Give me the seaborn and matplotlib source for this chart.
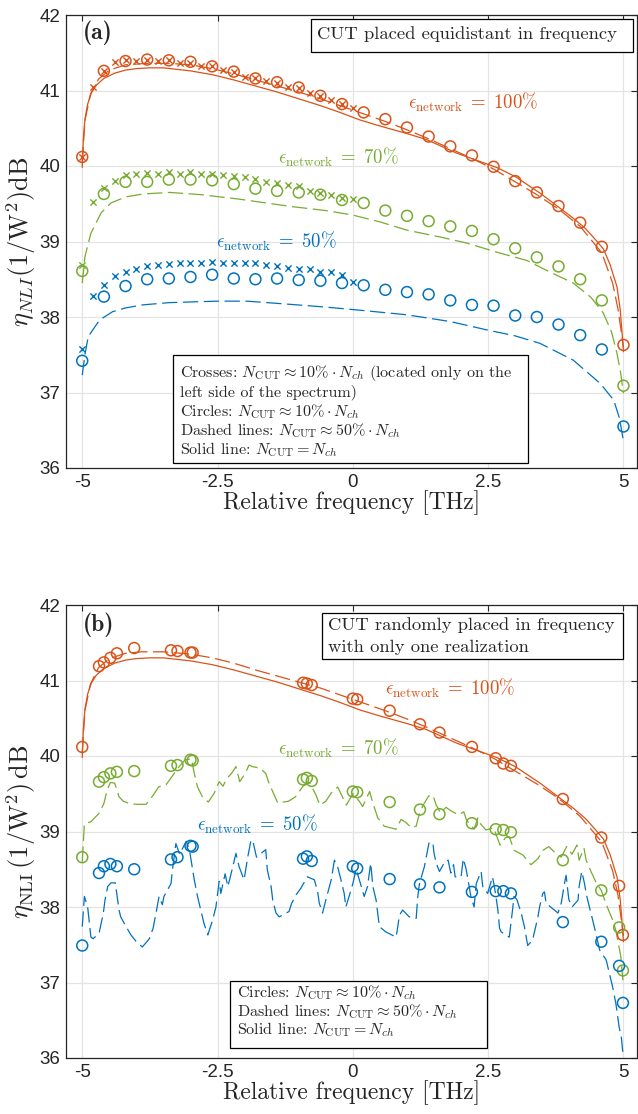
import numpy as np
import pandas as pd
import matplotlib
matplotlib.use("Agg")
import matplotlib.pyplot as plt
from matplotlib.patches import Rectangle
import seaborn as sns

# ---------------- data ----------------
RED = "#D95319"
GREEN = "#77AC30"
BLUE = "#0072BD"

# (a) equidistant CUTs
cross_f = [-5.0, -4.8, -4.6, -4.4, -4.2, -4.0, -3.8, -3.6, -3.4, -3.2, -3.0, -2.8, -2.6,
           -2.4, -2.2, -2.0, -1.8, -1.6, -1.4, -1.2, -1.0, -0.8, -0.6, -0.4, -0.2, 0.0]
red_cross_a = [40.12, 41.05, 41.26, 41.38, 41.40, 41.39, 41.41, 41.39, 41.40, 41.37, 41.36, 41.33, 41.32,
               41.27, 41.25, 41.18, 41.16, 41.13, 41.10, 41.05, 41.03, 40.97, 40.93, 40.87, 40.82, 40.77]
green_cross_a = [38.69, 39.52, 39.71, 39.80, 39.88, 39.90, 39.91, 39.90, 39.92, 39.90, 39.92, 39.90, 39.90,
                 39.88, 39.87, 39.85, 39.83, 39.79, 39.77, 39.75, 39.73, 39.67, 39.64, 39.62, 39.57, 39.56]
blue_cross_a = [37.58, 38.28, 38.43, 38.54, 38.59, 38.64, 38.67, 38.69, 38.70, 38.71, 38.72, 38.71, 38.73,
                38.72, 38.72, 38.71, 38.72, 38.69, 38.68, 38.65, 38.64, 38.63, 38.60, 38.59, 38.56, 38.47]

circle_f_a = [-5.0, -4.6, -4.2, -3.8, -3.4, -3.0, -2.6, -2.2, -1.8, -1.4, -1.0, -0.6, -0.2,
              0.2, 0.6, 1.0, 1.4, 1.8, 2.2, 2.6, 3.0, 3.4, 3.8, 4.2, 4.6, 5.0]
red_circ_a = [40.12, 41.26, 41.39, 41.41, 41.40, 41.38, 41.32, 41.25, 41.16, 41.11, 41.04, 40.93, 40.82,
              40.71, 40.62, 40.51, 40.39, 40.26, 40.14, 39.99, 39.80, 39.65, 39.47, 39.25, 38.93, 37.63]
green_circ_a = [38.61, 39.63, 39.79, 39.79, 39.82, 39.82, 39.81, 39.76, 39.70, 39.67, 39.65, 39.62, 39.55,
                39.51, 39.41, 39.34, 39.27, 39.20, 39.14, 39.03, 38.91, 38.79, 38.67, 38.50, 38.22, 37.09]
blue_circ_a = [37.42, 38.27, 38.41, 38.50, 38.51, 38.53, 38.56, 38.51, 38.50, 38.51, 38.49, 38.48, 38.45,
               38.42, 38.36, 38.33, 38.30, 38.22, 38.16, 38.15, 38.02, 38.00, 37.90, 37.76, 37.57, 36.55]

# solid line, N_CUT = N_ch (same in both panels)
solid_f = [-5.00, -4.98, -4.95, -4.90, -4.83, -4.74, -4.60, -4.40, -4.20, -4.00, -3.75, -3.50, -3.25,
           -3.00, -2.60, -2.20, -1.80, -1.40, -1.00, -0.60, -0.24, 0.13, 0.50, 1.00, 1.36, 1.92,
           2.66, 3.00, 3.46, 4.07, 4.30, 4.50, 4.63, 4.75, 4.88, 4.94, 4.97, 5.00]
red_solid = [39.98, 40.35, 40.62, 40.82, 40.97, 41.07, 41.16, 41.23, 41.27, 41.29, 41.30, 41.30, 41.28,
             41.26, 41.21, 41.14, 41.06, 40.98, 40.89, 40.80, 40.71, 40.61, 40.53, 40.43, 40.35, 40.17,
             39.98, 39.86, 39.64, 39.31, 39.17, 39.01, 38.90, 38.70, 38.40, 38.10, 37.83, 37.54]

# dashed lines, N_CUT ~ 50% N_ch, panel (a)
red_dash_f_a = [-5.0, -4.95, -4.85, -4.7, -4.5, -4.2, -3.8, -3.4, -3.0, -2.6, -2.2, -1.8, -1.4, -1.0,
                -0.6, -0.2, 0.2, 0.6, 1.0, 1.4, 1.8, 2.2, 2.6, 3.0, 3.4, 3.8, 4.2, 4.6, 4.8, 4.9, 5.0]
red_dash_a = [40.05, 40.60, 40.95, 41.15, 41.27, 41.34, 41.36, 41.36, 41.34, 41.29, 41.22, 41.14, 41.06, 40.98,
              40.89, 40.79, 40.69, 40.59, 40.48, 40.36, 40.23, 40.10, 39.96, 39.79, 39.62, 39.43, 39.20, 38.85,
              38.45, 38.10, 37.60]
green_dash_f_a = [-5.00, -4.95, -4.84, -4.65, -4.47, -4.20, -3.87, -3.38, -2.80, -2.09, -1.60, -1.10, -0.50,
                  0.00, 0.50, 1.00, 1.61, 2.10, 2.70, 3.21, 3.60, 4.07, 4.40, 4.63, 4.78, 4.88, 4.95, 5.00]
green_dash_a = [38.45, 38.80, 39.11, 39.38, 39.51, 39.59, 39.63, 39.65, 39.62, 39.56, 39.51, 39.46, 39.41,
                39.35, 39.26, 39.15, 39.06, 38.98, 38.85, 38.75, 38.61, 38.45, 38.26, 38.05, 37.80, 37.52,
                37.25, 36.99]
blue_dash_f_a = [-5.00, -4.95, -4.89, -4.68, -4.44, -4.20, -3.89, -3.40, -2.97, -2.50, -1.96, -1.20, -0.48,
                 0.13, 0.99, 1.80, 2.47, 3.00, 3.46, 4.07, 4.57, 4.82, 4.93, 5.00]
blue_dash_a = [37.23, 37.50, 37.74, 37.96, 38.07, 38.12, 38.16, 38.19, 38.20, 38.21, 38.21, 38.17, 38.13,
               38.09, 38.03, 37.94, 37.83, 37.75, 37.65, 37.43, 37.12, 36.90, 36.65, 36.35]

# (b) randomly placed CUTs, one realization
circle_f_b = [-5.0, -4.69, -4.60, -4.48, -4.36, -4.04, -3.36, -3.24, -3.00, -2.96, -0.92, -0.85, -0.76,
              0.0, 0.08, 0.68, 1.24, 1.60, 2.20, 2.64, 2.78, 2.92, 3.88, 4.59, 4.92, 4.99]
red_circ_b = [40.12, 41.19, 41.24, 41.30, 41.36, 41.43, 41.40, 41.39, 41.37, 41.37, 40.97, 40.96, 40.94,
              40.76, 40.75, 40.60, 40.42, 40.31, 40.12, 39.97, 39.90, 39.87, 39.43, 38.92, 38.28, 37.63]
green_circ_b = [38.66, 39.66, 39.72, 39.77, 39.79, 39.80, 39.87, 39.88, 39.95, 39.94, 39.69, 39.71, 39.67,
                39.53, 39.52, 39.39, 39.29, 39.23, 39.11, 39.03, 39.02, 38.99, 38.62, 38.22, 37.73, 37.16]
blue_circ_b = [37.49, 38.45, 38.54, 38.57, 38.54, 38.50, 38.63, 38.66, 38.81, 38.80, 38.64, 38.67, 38.61,
               38.54, 38.51, 38.37, 38.30, 38.26, 38.20, 38.21, 38.21, 38.18, 37.80, 37.54, 37.22, 36.73]

red_dash_f_b = [-5.0, -4.95, -4.85, -4.7, -4.5, -4.2, -3.9, -3.5, -3.0, -2.6, -2.2, -1.8, -1.4, -1.0,
                -0.6, -0.2, 0.2, 0.6, 1.0, 1.4, 1.8, 2.2, 2.6, 3.0, 3.4, 3.8, 4.2, 4.6, 4.8, 4.9, 5.0]
red_dash_b = [40.05, 40.60, 40.95, 41.17, 41.29, 41.36, 41.38, 41.38, 41.35, 41.30, 41.23, 41.14, 41.06, 40.98,
              40.90, 40.80, 40.70, 40.60, 40.49, 40.37, 40.24, 40.11, 39.97, 39.80, 39.63, 39.44, 39.20, 38.86,
              38.48, 38.15, 37.62]
green_dash_f_b = [-5.00, -4.96, -4.84, -4.69, -4.60, -4.54, -4.48, -4.40, -4.32, -4.24, -4.12, -4.00, -3.82,
                  -3.69, -3.59, -3.45, -3.34, -3.22, -3.10, -2.98, -2.93, -2.87, -2.78, -2.67, -2.56, -2.47,
                  -2.40, -2.33, -2.23, -2.16, -2.09, -1.98, -1.92, -1.86, -1.72, -1.61, -1.55, -1.45, -1.39,
                  -1.19, -1.06, -0.92, -0.80, -0.68, -0.61, -0.50, -0.40, -0.28, -0.22, -0.12, 0.00, 0.12,
                  0.18, 0.31, 0.36, 0.46, 0.58, 0.80, 0.89, 0.98, 1.08, 1.17, 1.23, 1.30, 1.40, 1.48, 1.54,
                  1.62, 1.72, 1.80, 1.95, 2.05, 2.10, 2.24, 2.31, 2.36, 2.46, 2.60, 2.72, 2.82, 2.89, 2.98,
                  3.14, 3.29, 3.42, 3.51, 3.62, 3.72, 3.85, 3.95, 4.05, 4.14, 4.18, 4.27, 4.31, 4.40, 4.49,
                  4.59, 4.70, 4.80, 4.86, 4.91, 4.95, 4.99]
green_dash_b = [38.60, 39.10, 39.13, 39.24, 39.37, 39.55, 39.65, 39.64, 39.46, 39.40, 39.37, 39.36, 39.36,
                39.48, 39.59, 39.62, 39.73, 39.85, 39.95, 39.96, 39.77, 39.59, 39.46, 39.39, 39.51, 39.66,
                39.60, 39.70, 39.78, 39.86, 39.66, 39.78, 39.88, 39.86, 39.84, 39.77, 39.64, 39.48, 39.38,
                39.40, 39.46, 39.60, 39.65, 39.48, 39.35, 39.40, 39.51, 39.59, 39.50, 39.35, 39.50, 39.40,
                39.33, 39.53, 39.40, 39.18, 39.07, 39.03, 39.16, 39.12, 39.05, 39.07, 39.24, 39.35, 39.47,
                39.48, 39.35, 39.25, 39.32, 39.28, 39.22, 39.26, 39.15, 39.03, 39.18, 39.10, 39.02, 39.05,
                38.82, 38.92, 38.93, 38.75, 38.69, 38.56, 38.64, 38.75, 38.80, 38.73, 38.66, 38.80, 38.70,
                38.82, 38.62, 38.78, 38.62, 38.47, 38.33, 38.22, 38.00, 37.83, 37.69, 37.50, 37.35, 37.03]
blue_dash_f_b = [-5.00, -4.96, -4.90, -4.84, -4.80, -4.69, -4.61, -4.58, -4.53, -4.47, -4.39, -4.37, -4.32,
                 -4.29, -4.19, -4.10, -4.00, -3.89, -3.76, -3.69, -3.58, -3.52, -3.49, -3.36, -3.33, -3.27,
                 -3.20, -3.08, -3.02, -2.93, -2.87, -2.81, -2.75, -2.68, -2.59, -2.53, -2.47, -2.44, -2.36,
                 -2.31, -2.25, -2.16, -2.10, -2.01, -1.94, -1.88, -1.84, -1.78, -1.68, -1.61, -1.58, -1.51,
                 -1.48, -1.42, -1.36, -1.18, -1.13, -1.05, -0.96, -0.84, -0.71, -0.65, -0.62, -0.56, -0.50,
                 -0.40, -0.34, -0.28, -0.22, -0.16, -0.13, -0.07, 0.00, 0.06, 0.12, 0.21, 0.27, 0.33, 0.37,
                 0.43, 0.49, 0.61, 0.80, 0.83, 0.86, 0.92, 1.04, 1.17, 1.20, 1.23, 1.32, 1.41, 1.48, 1.50,
                 1.54, 1.60, 1.70, 1.76, 1.81, 1.86, 1.89, 2.00, 2.04, 2.09, 2.15, 2.18, 2.24, 2.28, 2.37,
                 2.40, 2.49, 2.58, 2.62, 2.68, 2.71, 2.74, 2.89, 2.92, 2.98, 3.03, 3.11, 3.17, 3.23, 3.32,
                 3.42, 3.45, 3.51, 3.54, 3.57, 3.79, 3.85, 3.91, 3.94, 3.99, 4.05, 4.16, 4.18, 4.23, 4.28,
                 4.31, 4.37, 4.43, 4.49, 4.56, 4.68, 4.74, 4.80, 4.86, 4.92, 4.96, 4.99]
blue_dash_b = [37.74, 38.14, 38.00, 37.60, 37.58, 37.65, 37.92, 38.09, 38.27, 38.32, 38.32, 38.22, 37.96,
               37.87, 37.74, 37.63, 37.54, 37.47, 37.58, 37.72, 38.14, 38.03, 38.14, 38.31, 38.51, 38.84,
               38.70, 38.87, 38.76, 38.36, 38.14, 37.96, 37.78, 37.63, 37.83, 38.00, 38.34, 38.18, 38.44,
               38.27, 38.44, 38.71, 38.53, 38.36, 38.67, 38.89, 38.85, 38.66, 38.72, 38.76, 38.49, 38.27,
               38.09, 37.92, 37.87, 37.94, 38.05, 38.16, 38.25, 38.40, 38.36, 38.20, 38.05, 37.92, 38.09,
               38.36, 38.62, 38.53, 38.36, 38.18, 38.00, 38.14, 38.31, 38.50, 38.36, 38.14, 38.27, 38.58, 38.27,
               38.09, 37.74, 37.67, 37.60, 37.74, 37.89, 37.96, 37.87, 37.85, 38.14, 38.31, 38.53, 38.86, 38.84, 38.71,
               38.58, 38.47, 38.60, 38.62, 38.45, 38.56, 38.40, 38.40, 38.64, 38.51, 38.27, 38.14, 38.00, 38.31, 38.47,
               38.27, 38.18, 38.40, 38.25, 37.96, 37.72, 37.67, 37.60, 37.78, 38.14, 38.10, 37.92, 37.74, 37.49, 37.56,
               37.87, 38.00, 38.18, 38.20, 38.05, 37.92, 38.05, 38.31, 38.42, 38.10, 38.00, 38.09, 38.27, 38.47, 38.31,
               38.18, 38.00, 37.83, 37.65, 37.43, 37.30, 37.12, 36.94, 36.72, 36.41, 36.28, 36.06]

x_ticks = [-5, -2.5, 0, 2.5, 5]
x_ticklabels = ["-5", "-2.5", "0", "2.5", "5"]
y_ticks = [36, 37, 38, 39, 40, 41, 42]

# ---------------- style ----------------
sns.set_theme(style="white")
plt.rcParams["font.family"] = ["Liberation Sans", "DejaVu Sans"]
plt.rcParams["mathtext.fontset"] = "cm"
plt.rcParams["axes.unicode_minus"] = False
plt.rcParams["lines.scale_dashes"] = False
SERIF = "cmr10"
DASH = (0, (11, 4))


def line(ax, xs, ys, color, ls="-"):
    df = pd.DataFrame({"f": xs, "v": ys})
    sns.lineplot(data=df, x="f", y="v", ax=ax, color=color, linewidth=0.9,
                 linestyle=ls, sort=False, estimator=None, zorder=2)


def circles(ax, xs, ys, color):
    sns.scatterplot(x=xs, y=ys, ax=ax, marker="o", s=62, color=color,
                    facecolors="none", edgecolor=color, linewidth=1.1, zorder=3, legend=False)


def crosses(ax, xs, ys, color):
    sns.scatterplot(x=xs, y=ys, ax=ax, marker="x", s=20, color=color,
                    linewidth=1.0, zorder=3, legend=False)


def textbox(ax, x0, y0, x1, y1, lines, xt, fs):
    ax.add_patch(Rectangle((x0, y0), x1 - x0, y1 - y0, transform=ax.transAxes,
                           facecolor="white", edgecolor="black", linewidth=0.9, zorder=5))
    for yt, s in lines:
        ax.text(xt, yt, s, transform=ax.transAxes, ha="left", va="center",
                fontsize=fs, family=SERIF, zorder=6)


def style_axes(ax):
    ax.set_xlim(-5.3, 5.25)
    ax.set_ylim(36, 42)
    ax.set_xticks(x_ticks)
    ax.set_xticklabels(x_ticklabels)
    ax.set_yticks(y_ticks)
    ax.grid(True, color="#e4e4e4", linewidth=0.9)
    ax.set_axisbelow(True)
    ax.tick_params(direction="in", top=True, right=True, length=4, width=0.8,
                   labelsize=13.5, colors="#262626", pad=4)
    for sp in ax.spines.values():
        sp.set_color("#262626")
        sp.set_linewidth(0.9)
    ax.set_xlabel("Relative frequency [THz]", family=SERIF, fontsize=17, labelpad=0)


fig = plt.figure(figsize=(6.38, 11.14), dpi=100)
ax1 = fig.add_axes([66 / 638, 1 - 468 / 1114, 571 / 638, 453 / 1114])
ax2 = fig.add_axes([66 / 638, 1 - 1058 / 1114, 571 / 638, 453 / 1114])

EPS = 13.5

# ---------------- panel (a) ----------------
line(ax1, solid_f, red_solid, RED)
line(ax1, red_dash_f_a, red_dash_a, RED, DASH)
line(ax1, green_dash_f_a, green_dash_a, GREEN, DASH)
line(ax1, blue_dash_f_a, blue_dash_a, BLUE, DASH)
for col, cr, ci in [(RED, red_cross_a, red_circ_a), (GREEN, green_cross_a, green_circ_a),
                    (BLUE, blue_cross_a, blue_circ_a)]:
    crosses(ax1, cross_f, cr, col)
    circles(ax1, circle_f_a, ci, col)
style_axes(ax1)
ax1.set_ylabel(r"$\eta_{NLI}(1/\mathrm{W}^2)\mathrm{dB}$", fontsize=19, labelpad=1)

ax1.text(2.22, 40.84, r"$\epsilon_{\mathrm{network}}\;=\;100\%$", color=RED, fontsize=EPS, ha="center", va="center")
ax1.text(-0.26, 40.12, r"$\epsilon_{\mathrm{network}}\;=\;70\%$", color=GREEN, fontsize=EPS, ha="center", va="center")
ax1.text(-1.42, 39.00, r"$\epsilon_{\mathrm{network}}\;=\;50\%$", color=BLUE, fontsize=EPS, ha="center", va="center")
ax1.text(0.029, 0.960, "(a)", transform=ax1.transAxes, family="cmb10", fontsize=17, va="center")

textbox(ax1, 0.429, 0.918, 0.993, 0.991, [(0.958, "CUT placed equidistant in frequency")], 0.440, 13.4)
textbox(ax1, 0.187, 0.012, 0.809, 0.249,
        [(0.209, r"Crosses: $N_{\mathrm{CUT}} \approx 10\% \cdot N_{ch}$ (located only on the"),
         (0.168, "left side of the spectrum)"),
         (0.124, r"Circles: $N_{\mathrm{CUT}} \approx 10\% \cdot N_{ch}$"),
         (0.082, r"Dashed lines: $N_{\mathrm{CUT}} \approx 50\% \cdot N_{ch}$"),
         (0.041, r"Solid line: $N_{\mathrm{CUT}} = N_{ch}$")], 0.200, 11.6)

# ---------------- panel (b) ----------------
line(ax2, solid_f, red_solid, RED)
line(ax2, red_dash_f_b, red_dash_b, RED, DASH)
line(ax2, green_dash_f_b, green_dash_b, GREEN, DASH)
line(ax2, blue_dash_f_b, blue_dash_b, BLUE, DASH)
for col, ci in [(RED, red_circ_b), (GREEN, green_circ_b), (BLUE, blue_circ_b)]:
    circles(ax2, circle_f_b, ci, col)
style_axes(ax2)
ax2.set_ylabel(r"$\eta_{\mathrm{NLI}}\,(1/\mathrm{W}^2)\,\mathrm{dB}$", fontsize=19, labelpad=1)

ax2.text(1.80, 40.89, r"$\epsilon_{\mathrm{network}}\;=\;100\%$", color=RED, fontsize=EPS, ha="center", va="center")
ax2.text(-0.26, 40.10, r"$\epsilon_{\mathrm{network}}\;=\;70\%$", color=GREEN, fontsize=EPS, ha="center", va="center")
ax2.text(-1.76, 39.09, r"$\epsilon_{\mathrm{network}}\;=\;50\%$", color=BLUE, fontsize=EPS, ha="center", va="center")
ax2.text(0.029, 0.956, "(b)", transform=ax2.transAxes, family="cmb10", fontsize=17, va="center")

textbox(ax2, 0.448, 0.880, 0.975, 0.983,
        [(0.955, "CUT randomly placed in frequency"), (0.906, "with only one realization")], 0.459, 13.4)
textbox(ax2, 0.288, 0.021, 0.737, 0.170,
        [(0.145, r"Circles: $N_{\mathrm{CUT}} \approx 10\% \cdot N_{ch}$"),
         (0.102, r"Dashed lines: $N_{\mathrm{CUT}} \approx 50\% \cdot N_{ch}$"),
         (0.062, r"Solid line: $N_{\mathrm{CUT}} = N_{ch}$")], 0.300, 11.6)

fig.savefig("out.png", dpi=100, facecolor="white")
